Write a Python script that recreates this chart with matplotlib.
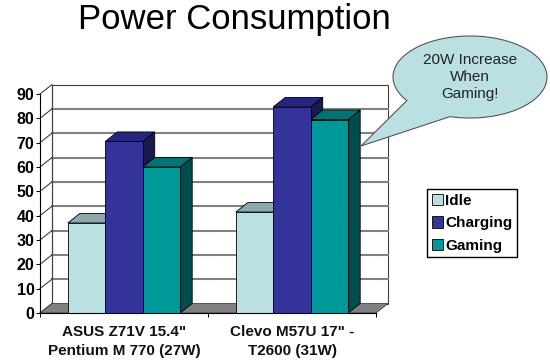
import matplotlib
matplotlib.use('Agg')
import matplotlib.pyplot as plt
from matplotlib.patches import Patch, Polygon
import numpy as np

plt.rcParams['font.family'] = ['Liberation Sans', 'DejaVu Sans']

# data
laptops = ['ASUS Z71V 15.4"\nPentium M 770 (27W)', 'Clevo M57U 17" -\nT2600 (31W)']
series = ['Idle', 'Charging', 'Gaming']
idle = [37, 41.5]
charging = [70.5, 84.7]
gaming = [60, 79.5]
yticks = [0, 10, 20, 30, 40, 50, 60, 70, 80, 90]

# front, top, side colours for each series
front_cols = ['#BBE0E3', '#333399', '#009999']
top_cols = ['#8CA8AA', '#26267F', '#007373']
side_cols = ['#5E7071', '#1A1A4D', '#004D4D']

W, H = 550, 364
fig = plt.figure(figsize=(5.5, 3.64), dpi=100)
ax = fig.add_axes([40 / W, 1 - 313 / H, 336 / W, 219 / H])
ax.set_xlim(-0.5, 1.5)
ax.set_ylim(0, 90)

# 3d depth in data units
dx = 0.0714
dy = 3.9
bar_w = 0.223

# back wall and left wall
ax.add_patch(Polygon([(-0.5 + dx, dy), (1.5 + dx, dy), (1.5 + dx, 90 + dy), (-0.5 + dx, 90 + dy)],
                     fc='white', ec='#404040', lw=0.8, clip_on=False, zorder=1))

# gridlines
for v in yticks[1:-1]:
    ax.plot([-0.5 + dx, 1.5 + dx], [v + dy, v + dy], color='#808080', lw=1.5, clip_on=False, zorder=2)
for v in yticks:
    ax.plot([-0.5, -0.5 + dx], [v, v + dy], color='#404040', lw=0.8, clip_on=False, zorder=2)
ax.plot([-0.5 + dx, -0.5 + dx], [dy, 90 + dy], color='#404040', lw=0.8, clip_on=False, zorder=2)

# floor
ax.add_patch(Polygon([(-0.5, 0), (-0.5 + dx, dy), (1.5 + dx, dy), (1.5, 0)],
                     fc='#808080', ec='#404040', lw=0.6, clip_on=False, zorder=3))

# bars, left to right so the nearer faces overlap
z = 4
for i in range(len(laptops)):
    for j, vals in enumerate([idle, charging, gaming]):
        x0 = i + (j - 1.5) * bar_w
        x1 = x0 + bar_w
        v = vals[i]
        ax.add_patch(Polygon([(x1, 0), (x1 + dx, dy), (x1 + dx, v + dy), (x1, v)],
                             fc=side_cols[j], ec='black', lw=0.6, clip_on=False, zorder=z))
        ax.add_patch(Polygon([(x0, v), (x0 + dx, v + dy), (x1 + dx, v + dy), (x1, v)],
                             fc=top_cols[j], ec='black', lw=0.6, clip_on=False, zorder=z))
        ax.bar(x0, v, bar_w, align='edge', color=front_cols[j], edgecolor='black', lw=0.6, zorder=z + 0.5)
        z += 1

for s in ['top', 'right']:
    ax.spines[s].set_visible(False)
for s in ['left', 'bottom']:
    ax.spines[s].set_linewidth(0.8)
    ax.spines[s].set_zorder(30)

ax.set_yticks(yticks)
ax.set_xticks([-0.5, 0.5, 1.5])
ax.set_xticklabels([])
ax.set_xticks([0, 1], minor=True)
ax.set_xticklabels(laptops, minor=True, fontsize=11, fontweight='bold', color='#111111', linespacing=1.4)
ax.tick_params(axis='x', which='minor', length=0, pad=9)
ax.tick_params(axis='x', which='major', length=3, width=0.7)
ax.tick_params(axis='y', length=3, width=0.7, pad=1, labelsize=11.5)
for t in ax.get_yticklabels():
    t.set_fontweight('bold')

fig.text(234 / W, 1 - 19 / H, 'Power Consumption', fontsize=25, ha='center', va='center')

# legend
handles = [Patch(fc=c, ec='black', lw=0.6, label=s) for c, s in zip(front_cols, series)]
fig.legend(handles=handles, loc='upper left', bbox_to_anchor=(427 / W, 1 - 189 / H),
           prop={'weight': 'bold', 'size': 11}, fancybox=False, edgecolor='black', framealpha=1,
           handlelength=0.75, handleheight=0.8, handletextpad=0.15, labelspacing=0.55,
           borderpad=0.3, borderaxespad=0)

# speech bubble, in pixel coordinates
overlay = fig.add_axes([0, 0, 1, 1], zorder=50)
overlay.set_xlim(0, W)
overlay.set_ylim(H, 0)
overlay.axis('off')
a = np.radians(np.linspace(-215, 105, 120))
bubble = np.column_stack([470 + 77 * np.cos(a), 77 + 41 * np.sin(a)])
bubble = np.vstack([bubble, [[361, 146]]])
overlay.add_patch(Polygon(bubble, closed=True, fc='#BBE0E3', ec='#555555', lw=0.8))
overlay.text(470, 77, '20W Increase\nWhen\nGaming!', fontsize=11, ha='center', va='center',
             color='#222222', linespacing=1.3)

fig.savefig('out.png', dpi=100)
